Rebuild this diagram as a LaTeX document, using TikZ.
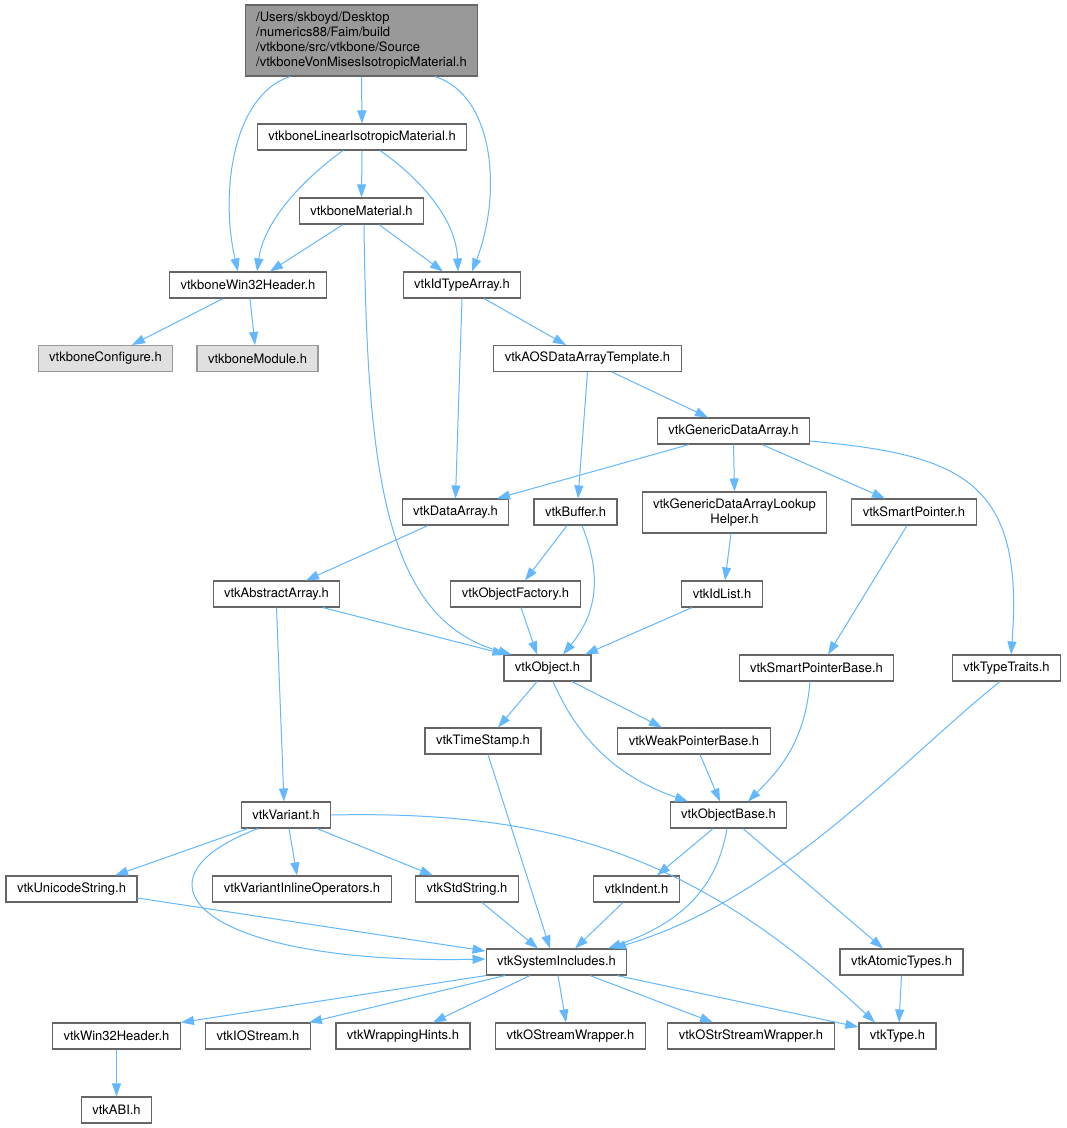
\documentclass[tikz,border=0pt]{standalone}
\usepackage{fontspec}
\setmainfont{TeX Gyre Heros}
\usepackage{xcolor}
\definecolor{m_edge}{HTML}{63B8FF}
\definecolor{m_frame}{HTML}{666666}
\definecolor{m_root}{HTML}{999999}
\definecolor{m_ext}{HTML}{E0E0E0}
\usepackage{tikz}
\usetikzlibrary{arrows.meta}

\begin{document}
\begin{tikzpicture}[
        x=1pt, y=-1pt,
        every node/.style={font=\fontsize{13}{15}\selectfont},
        header/.style={draw=m_frame, fill=white, line width=1.1pt, inner xsep=11pt, inner ysep=0pt, minimum height=26pt},
        roothdr/.style={header, fill=m_root, align=left, minimum height=71pt},
        exthdr/.style={header, draw=m_root, fill=m_ext},
        dep/.style={draw=m_edge, line width=1pt, -{Triangle[length=13pt, width=9pt]}}]
    \path[fill=white, use as bounding box] (0,0) rectangle (1067,1128);

    \node[roothdr] (root) at (361.5,40.5) {/Users/skboyd/Desktop\\/numerics88/Faim/build\\/vtkbone/src/vtkbone/Source\\/vtkboneVonMisesIsotropicMaterial.h};
    \node[header] (liniso) at (362,137) {vtkboneLinearIsotropicMaterial.h};
    \node[header] (material) at (361.5,211) {vtkboneMaterial.h};
    \node[header] (bwin32) at (248,285) {vtkboneWin32Header.h};
    \node[header] (idtype) at (462,285) {vtkIdTypeArray.h};
    \node[exthdr] (config) at (105.5,358.5) {vtkboneConfigure.h};
    \node[exthdr] (module) at (257.5,358.5) {vtkboneModule.h};
    \node[header] (aos) at (587.5,358.5) {vtkAOSDataArrayTemplate.h};
    \node[header] (generic) at (733.5,431) {vtkGenericDataArray.h};
    \node[header] (dataarray) at (455.5,512) {vtkDataArray.h};
    \node[header] (buffer) at (575.5,512) {vtkBuffer.h};
    \node[header, align=center, minimum height=41pt] (lookup) at (734.5,512.5) {vtkGenericDataArrayLookup\\Helper.h};
    \node[header] (smartptr) at (914,512) {vtkSmartPointer.h};
    \node[header] (abstract) at (276.5,594) {vtkAbstractArray.h};
    \node[header] (factory) at (515.5,594) {vtkObjectFactory.h};
    \node[header] (idlist) at (722,594) {vtkIdList.h};
    \node[header] (object) at (547.5,668) {vtkObject.h};
    \node[header] (sptrbase) at (816.5,668) {vtkSmartPointerBase.h};
    \node[header] (traits) at (1006.5,668) {vtkTypeTraits.h};
    \node[header] (timestamp) at (483,741) {vtkTimeStamp.h};
    \node[header] (weakptr) at (694,741) {vtkWeakPointerBase.h};
    \node[header] (variant) at (286,815) {vtkVariant.h};
    \node[header] (objbase) at (728.5,815) {vtkObjectBase.h};
    \node[header] (unicode) at (71.5,889) {vtkUnicodeString.h};
    \node[header] (inlineops) at (302,889) {vtkVariantInlineOperators.h};
    \node[header] (stdstring) at (467,889) {vtkStdString.h};
    \node[header] (indent) at (636.5,889) {vtkIndent.h};
    \node[header] (sysinc) at (556.5,962) {vtkSystemIncludes.h};
    \node[header] (atomic) at (901.5,962) {vtkAtomicTypes.h};
    \node[header] (win32) at (116.5,1036) {vtkWin32Header.h};
    \node[header] (iostream) at (258,1036) {vtkIOStream.h};
    \node[header] (wrap) at (403,1036) {vtkWrappingHints.h};
    \node[header] (ostream) at (570.5,1036) {vtkOStreamWrapper.h};
    \node[header] (ostrstream) at (751,1036) {vtkOStrStreamWrapper.h};
    \node[header] (vtype) at (897.5,1036) {vtkType.h};
    \node[header] (abi) at (116.5,1110) {vtkABI.h};

    \draw[dep] (root.south) -- (liniso.north);
    \draw[dep] ([xshift=-71.5]root.south) .. controls +(-58,19) and +(-18,-77) .. ([xshift=-10]bwin32.north);
    \draw[dep] ([xshift=73.5]root.south) .. controls +(60,19) and +(30,-77) .. ([xshift=10]idtype.north);
    \draw[dep] ([xshift=-19]liniso.south) .. controls +(-28,20) and +(8,-57) .. ([xshift=9]bwin32.north);
    \draw[dep] (liniso.south) -- (material.north);
    \draw[dep] ([xshift=18]liniso.south) .. controls +(32,22) and +(-2,-57) .. ([xshift=-4]idtype.north);
    \draw[dep] ([xshift=-18.5]material.south) -- ([xshift=22]bwin32.north);
    \draw[dep] ([xshift=17.5]material.south) -- ([xshift=-19]idtype.north);
    \draw[dep] ([xshift=2.5]material.south) .. controls +(3,246) and +(-127,-35) .. ([xshift=-36]object.north);
    \draw[dep] ([xshift=-25]bwin32.south) -- ([xshift=26.5]config.north);
    \draw[dep] ([xshift=2]bwin32.south) -- ([xshift=-2.5]module.north);
    \draw[dep] ([xshift=22]idtype.south) -- ([xshift=-21.5]aos.north);
    \draw[dep] (idtype.south) -- (dataarray.north);
    \draw[dep] ([xshift=24.5]aos.south) -- ([xshift=-25.5]generic.north);
    \draw[dep] (aos.south) -- ([xshift=2.5]buffer.north);
    \draw[dep] ([xshift=-44.5]generic.south) -- ([xshift=41.5]dataarray.north);
    \draw[dep] (generic.south) -- (lookup.north);
    \draw[dep] ([xshift=28.5]generic.south) -- ([xshift=-29]smartptr.north);
    \draw[dep] ([yshift=-10]generic.east) .. controls +(150,14) and +(14,-175) .. ([xshift=4.5]traits.north);
    \draw[dep] ([xshift=-27.5]dataarray.south) -- ([xshift=29.5]abstract.north);
    \draw[dep] ([xshift=-8.5]buffer.south) -- ([xshift=9.5]factory.north);
    \draw[dep] ([xshift=6.5]buffer.south) .. controls +(18,45) and +(37,-45) .. ([xshift=15.5]object.north);
    \draw[dep] ([xshift=-3.5]lookup.south) -- ([xshift=3]idlist.north);
    \draw[dep] ([xshift=-7]smartptr.south) -- ([xshift=11.5]sptrbase.north);
    \draw[dep] ([xshift=46.5]abstract.south) -- ([xshift=-42]object.north);
    \draw[dep] (abstract.south) -- ([xshift=-2]variant.north);
    \draw[dep] ([xshift=5.5]factory.south) -- ([xshift=-10.5]object.north);
    \draw[dep] ([xshift=-30]idlist.south) -- ([xshift=37.5]object.north);
    \draw[dep] ([xshift=-6.5]sptrbase.south) .. controls +(-5,60) and +(32,-32) .. ([xshift=19.5]objbase.north);
    \draw[dep] ([xshift=-6.5]traits.south) .. controls +(-100,80) and +(167,-49) .. ([xshift=56.5]sysinc.north);
    \draw[dep] ([xshift=-10.5]object.south) -- ([xshift=15]timestamp.north);
    \draw[dep] ([xshift=24.5]object.south) -- ([xshift=-32]weakptr.north);
    \draw[dep] ([xshift=5.5]object.south) .. controls +(22,50) and +(-78,-27) .. ([xshift=-40.5]objbase.north);
    \draw[dep] ([xshift=5]timestamp.south) -- ([xshift=-6.5]sysinc.north);
    \draw[dep] ([xshift=6]weakptr.south) -- ([xshift=-8.5]objbase.north);
    \draw[dep] ([xshift=-38]variant.south) -- ([xshift=43.5]unicode.north);
    \draw[dep] ([xshift=-28]variant.south) .. controls +(-138,52) and +(-284,6) .. ([yshift=3]sysinc.west);
    \draw[dep] ([xshift=3]variant.south) -- ([xshift=-5]inlineops.north);
    \draw[dep] ([xshift=31]variant.south) -- ([xshift=-34]stdstring.north);
    \draw[dep] (variant.east) .. controls +(229,-5) and +(-175,-163) .. ([xshift=-22.5]vtype.north);
    \draw[dep] ([xshift=-15.5]objbase.south) -- ([xshift=20.5]indent.north);
    \draw[dep] ([xshift=-1.5]objbase.south) .. controls +(-9,52) and +(82,-29) .. ([xshift=51.5]sysinc.north);
    \draw[dep] ([xshift=14.5]objbase.south) -- ([xshift=-18.5]atomic.north);
    \draw[dep] ([yshift=-9]unicode.east) -- ([yshift=11]sysinc.west);
    \draw[dep] ([xshift=15]stdstring.south) -- ([xshift=-18.5]sysinc.north);
    \draw[dep] ([xshift=-13.5]indent.south) -- ([xshift=18.5]sysinc.north);
    \draw[dep] (atomic.south) -- ([xshift=1.5]vtype.north);
    \draw[dep] ([xshift=-70.5]sysinc.south) -- (win32.north east);
    \draw[dep] ([xshift=-51.5]sysinc.south) -- ([xshift=51]iostream.north);
    \draw[dep] ([xshift=-26.5]sysinc.south) -- ([xshift=30]wrap.north);
    \draw[dep] ([xshift=1.5]sysinc.south) -- ([xshift=-4.5]ostream.north);
    \draw[dep] ([xshift=33.5]sysinc.south) -- ([xshift=-38]ostrstream.north);
    \draw[dep] ([xshift=60.5]sysinc.south) -- ([yshift=9]vtype.west);
    \draw[dep] (win32.south) -- (abi.north);
\end{tikzpicture}
\end{document}
